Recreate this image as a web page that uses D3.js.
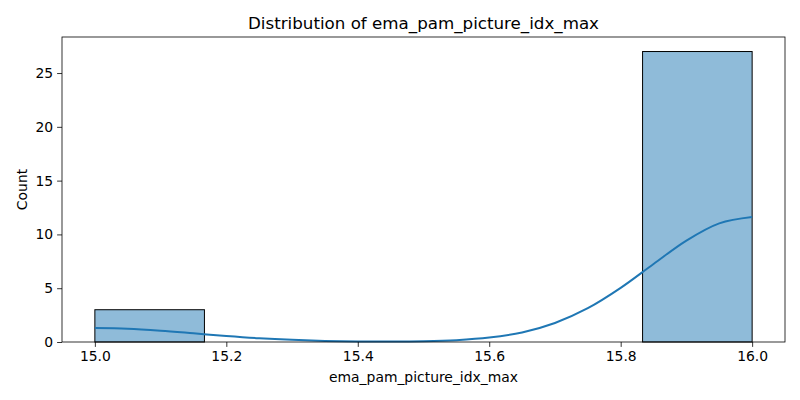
<!DOCTYPE html>
<html>
<head>
<meta charset="utf-8">
<script src="https://cdn.jsdelivr.net/npm/d3@7"></script>
<style>
  body { margin: 0; background: #fff; }
  svg text { font-family: "DejaVu Sans", sans-serif; fill: #000; }
</style>
</head>
<body>
<svg id="chart" width="800" height="400"></svg>
<script>
// histogram bins (6 bins between 15 and 16)
const binEdges = [15.0, 15.1667, 15.3333, 15.5, 15.6667, 15.8333, 16.0];
const binCounts = [3, 0, 0, 0, 0, 27];

// kde curve
const kdeX = [15.00, 15.05, 15.10, 15.15, 15.20, 15.25, 15.30, 15.35, 15.40, 15.45, 15.50,
              15.55, 15.60, 15.65, 15.70, 15.75, 15.80, 15.85, 15.90, 15.95, 16.00];
const kdeY = [1.29, 1.23, 1.05, 0.81, 0.56, 0.35, 0.20, 0.10, 0.05, 0.04, 0.07,
              0.17, 0.41, 0.89, 1.77, 3.14, 5.03, 7.25, 9.43, 11.03, 11.62];

const xTicks = [15.0, 15.2, 15.4, 15.6, 15.8, 16.0];
const yTicks = [0, 5, 10, 15, 20, 25];

const blue = "#1f77b4";
const margin = {top: 37, right: 15, bottom: 58, left: 62};
const width = 800, height = 400;

const svg = d3.select("#chart");

const x = d3.scaleLinear()
    .domain([14.95, 16.05])
    .range([margin.left, width - margin.right]);
const y = d3.scaleLinear()
    .domain([0, 28.35])
    .range([height - margin.bottom, margin.top]);

// bars
const bins = binCounts.map((c, i) => ({x0: binEdges[i], x1: binEdges[i + 1], count: c}));
svg.append("g")
  .selectAll("rect")
  .data(bins.filter(d => d.count > 0))
  .join("rect")
    .attr("x", d => x(d.x0))
    .attr("y", d => y(d.count))
    .attr("width", d => x(d.x1) - x(d.x0))
    .attr("height", d => y(0) - y(d.count))
    .attr("fill", blue)
    .attr("fill-opacity", 0.5)
    .attr("stroke", "#000")
    .attr("stroke-width", 1);

// kde line
const line = d3.line()
    .x(d => x(d[0]))
    .y(d => y(d[1]))
    .curve(d3.curveCatmullRom);
svg.append("path")
    .datum(d3.zip(kdeX, kdeY))
    .attr("d", line)
    .attr("fill", "none")
    .attr("stroke", blue)
    .attr("stroke-width", 2);

// axes
const xAxis = svg.append("g")
    .attr("transform", `translate(0,${height - margin.bottom})`)
    .call(d3.axisBottom(x).tickValues(xTicks).tickFormat(d3.format(".1f")).tickSize(4.9).tickPadding(4));
const yAxis = svg.append("g")
    .attr("transform", `translate(${margin.left},0)`)
    .call(d3.axisLeft(y).tickValues(yTicks).tickSize(4.9).tickPadding(4));

[xAxis, yAxis].forEach(a => {
  a.select(".domain").remove();
  a.selectAll("line").attr("stroke", "#000").attr("stroke-width", 0.8);
  a.selectAll("text").style("font-size", "13.9px").attr("fill", "#000");
});

// frame
svg.append("rect")
    .attr("x", margin.left)
    .attr("y", margin.top)
    .attr("width", width - margin.left - margin.right)
    .attr("height", height - margin.top - margin.bottom)
    .attr("fill", "none")
    .attr("stroke", "#000")
    .attr("stroke-width", 0.8);

// labels
const cx = (margin.left + width - margin.right) / 2;
svg.append("text")
    .attr("x", cx).attr("y", 29)
    .attr("text-anchor", "middle")
    .style("font-size", "16.7px")
    .text("Distribution of ema_pam_picture_idx_max");
svg.append("text")
    .attr("x", cx).attr("y", 382)
    .attr("text-anchor", "middle")
    .style("font-size", "13.9px")
    .text("ema_pam_picture_idx_max");
svg.append("text")
    .attr("transform", `translate(27,${(margin.top + height - margin.bottom) / 2}) rotate(-90)`)
    .attr("text-anchor", "middle")
    .style("font-size", "13.9px")
    .text("Count");
</script>
</body>
</html>
